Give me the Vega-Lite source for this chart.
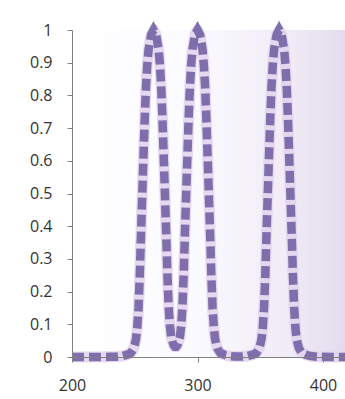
{
  "$schema": "https://vega.github.io/schema/vega-lite/v6.json",
  "autosize": "none",
  "width": 273,
  "height": 327,
  "padding": {"left": 72, "top": 30, "right": 0, "bottom": 42},
  "background": "white",
  "config": {"view": {"stroke": null}, "font": "Open Sans"},
  "datasets": {
    "spec": [
      {"x": 200, "y": 0}, {"x": 210, "y": 0}, {"x": 220, "y": 0}, {"x": 230, "y": 0.0005},
      {"x": 235, "y": 0.001}, {"x": 240, "y": 0.003}, {"x": 244, "y": 0.007}, {"x": 247, "y": 0.013},
      {"x": 249, "y": 0.025}, {"x": 250, "y": 0.038}, {"x": 251, "y": 0.055}, {"x": 252, "y": 0.09},
      {"x": 253, "y": 0.15}, {"x": 254, "y": 0.25}, {"x": 255, "y": 0.38}, {"x": 256, "y": 0.5},
      {"x": 257, "y": 0.62}, {"x": 258, "y": 0.735}, {"x": 259, "y": 0.83}, {"x": 260, "y": 0.895},
      {"x": 261, "y": 0.94}, {"x": 263, "y": 0.985}, {"x": 265, "y": 1.0}, {"x": 267, "y": 0.986},
      {"x": 269, "y": 0.941}, {"x": 270, "y": 0.896}, {"x": 271, "y": 0.831}, {"x": 272, "y": 0.737},
      {"x": 273, "y": 0.622}, {"x": 274, "y": 0.503}, {"x": 275, "y": 0.383}, {"x": 276, "y": 0.254},
      {"x": 277, "y": 0.155}, {"x": 278, "y": 0.096}, {"x": 279, "y": 0.062}, {"x": 280, "y": 0.047},
      {"x": 281, "y": 0.036}, {"x": 282, "y": 0.031}, {"x": 283, "y": 0.031}, {"x": 284, "y": 0.036},
      {"x": 285, "y": 0.047}, {"x": 286, "y": 0.062}, {"x": 287, "y": 0.096}, {"x": 288, "y": 0.155},
      {"x": 289, "y": 0.254}, {"x": 290, "y": 0.383}, {"x": 291, "y": 0.503}, {"x": 292, "y": 0.622},
      {"x": 293, "y": 0.737}, {"x": 294, "y": 0.831}, {"x": 295, "y": 0.896}, {"x": 296, "y": 0.941},
      {"x": 298, "y": 0.986}, {"x": 300, "y": 1.0}, {"x": 302, "y": 0.985}, {"x": 304, "y": 0.94},
      {"x": 305, "y": 0.895}, {"x": 306, "y": 0.83}, {"x": 307, "y": 0.735}, {"x": 308, "y": 0.62},
      {"x": 309, "y": 0.5}, {"x": 310, "y": 0.38}, {"x": 311, "y": 0.25}, {"x": 312, "y": 0.15},
      {"x": 313, "y": 0.09}, {"x": 314, "y": 0.055}, {"x": 315, "y": 0.038}, {"x": 316, "y": 0.025},
      {"x": 318, "y": 0.013}, {"x": 320, "y": 0.009}, {"x": 322, "y": 0.006}, {"x": 325, "y": 0.003},
      {"x": 330, "y": 0.0015}, {"x": 335, "y": 0.0015}, {"x": 340, "y": 0.003}, {"x": 344, "y": 0.007},
      {"x": 347, "y": 0.013}, {"x": 349, "y": 0.025}, {"x": 350, "y": 0.038}, {"x": 351, "y": 0.055},
      {"x": 352, "y": 0.09}, {"x": 353, "y": 0.15}, {"x": 354, "y": 0.25}, {"x": 355, "y": 0.38},
      {"x": 356, "y": 0.5}, {"x": 357, "y": 0.62}, {"x": 358, "y": 0.735}, {"x": 359, "y": 0.83},
      {"x": 360, "y": 0.895}, {"x": 361, "y": 0.94}, {"x": 363, "y": 0.985}, {"x": 365, "y": 1.0},
      {"x": 367, "y": 0.985}, {"x": 369, "y": 0.94}, {"x": 370, "y": 0.895}, {"x": 371, "y": 0.83},
      {"x": 372, "y": 0.735}, {"x": 373, "y": 0.62}, {"x": 374, "y": 0.5}, {"x": 375, "y": 0.38},
      {"x": 376, "y": 0.25}, {"x": 377, "y": 0.15}, {"x": 378, "y": 0.09}, {"x": 379, "y": 0.055},
      {"x": 380, "y": 0.038}, {"x": 381, "y": 0.025}, {"x": 383, "y": 0.013}, {"x": 386, "y": 0.007},
      {"x": 390, "y": 0.003}, {"x": 395, "y": 0.001}, {"x": 405, "y": 0}, {"x": 418, "y": 0}
    ]
  },
  "layer": [
    {
      "data": {"values": [{}]},
      "mark": {
        "type": "rect",
        "color": {
          "gradient": "linear", "x1": 0, "y1": 0.5, "x2": 1, "y2": 0.5,
          "stops": [
            {"offset": 0, "color": "#ffffff"},
            {"offset": 0.45, "color": "#fbfaff"},
            {"offset": 0.8, "color": "#f0ebf6"},
            {"offset": 1, "color": "#e4dcee"}
          ]
        }
      },
      "encoding": {}
    },
    {
      "data": {"name": "spec"},
      "encoding": {
        "x": {"field": "x", "type": "quantitative", "scale": {"domain": [200, 417.5], "nice": false, "zero": false},
          "axis": {"values": [200, 300, 400], "tickCount": 20, "grid": false, "zindex": 1, "labelFlush": false, "labelOverlap": false, "domainColor": "#808080", "tickColor": "#808080", "tickSize": 5, "labelFontSize": 16, "labelColor": "#333333", "labelPadding": 15, "title": null}},
        "y": {"field": "y", "type": "quantitative", "scale": {"domain": [0, 1], "nice": false},
          "axis": {"values": [0, 0.1, 0.2, 0.3, 0.4, 0.5, 0.6, 0.7, 0.8, 0.9, 1], "tickCount": 20, "format": "~g", "grid": false, "zindex": 1, "labelFlush": false, "labelOverlap": false, "domainColor": "#808080", "tickColor": "#808080", "tickSize": 5, "labelFontSize": 16, "labelColor": "#333333", "labelPadding": 15, "title": null}}
      },
      "layer": [
        {"mark": {"type": "line", "color": "#e2d4ee", "strokeWidth": 11, "opacity": 0.9, "strokeJoin": "round"}},
        {"mark": {"type": "line", "color": "#7868a6", "strokeWidth": 8.5, "strokeDash": [12, 5], "opacity": 0.95}}
      ]
    }
  ]
}
